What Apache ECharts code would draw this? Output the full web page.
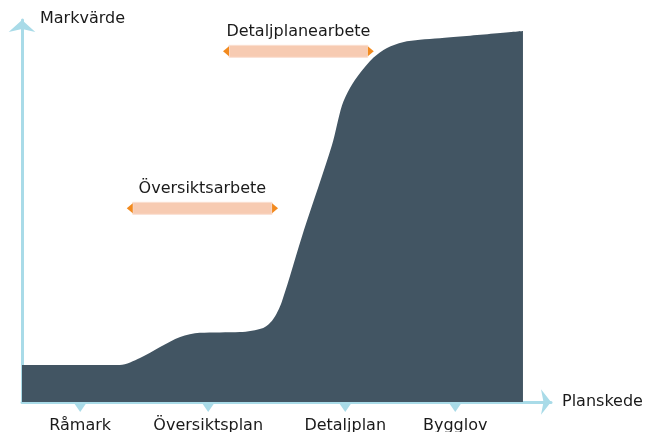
<!DOCTYPE html>
<html>
<head>
<meta charset="utf-8">
<script src="https://cdn.jsdelivr.net/npm/echarts@6/dist/echarts.min.js"></script>
<style>
  html, body { margin: 0; padding: 0; background: #fff; }
  #chart { width: 648px; height: 432px; }
</style>
</head>
<body>
<div id="chart"></div>
<script>
// market value curve, x = planning progress, y = land value (0-100)
const curveX = [0, 18.5, 22.3, 26.1, 29.9, 33.6, 41.2, 45.6, 47.4, 49.1, 53.3, 58.6, 60.5, 62.0, 63.9, 66.4, 69.0, 72.0, 75.2, 79.0, 94.7];
const curveY = [9.7, 9.7, 11.5, 14.4, 17.0, 18.1, 18.3, 19.4, 21.5, 26.2, 45.0, 67.3, 77.7, 82.2, 86.1, 90.1, 92.7, 94.2, 94.8, 95.2, 97.1];

// planning stages on the x axis
const stages = ["Råmark", "Översiktsplan", "Detaljplan", "Bygglov"];
const stageX = [11.0, 35.2, 61.1, 81.9];

// work periods (start, end, level)
const workNames = ["Översiktsarbete", "Detaljplanearbete"];
const workStart = [19.8, 38.0];
const workEnd = [48.4, 66.5];
const workLevel = [50.7, 91.8];

const FONT = "DejaVu Sans";
const AXIS_COLOR = "#a9dbe8";

const chart = echarts.init(document.getElementById("chart"));

const option = {
  animation: false,
  textStyle: { fontFamily: FONT },
  grid: { left: 22, right: 97, top: 20, bottom: 30 },
  xAxis: {
    type: "value",
    min: 0,
    max: 100,
    name: "Planskede",
    nameLocation: "end",
    nameGap: 11,
    nameTextStyle: { fontFamily: FONT, fontSize: 16, color: "#1a1a1a" },
    axisLine: {
      show: true,
      symbol: ["none", "arrow"],
      symbolSize: [19, 10],
      lineStyle: { color: AXIS_COLOR, width: 3 },
    },
    axisTick: { show: false },
    axisLabel: { show: false },
    splitLine: { show: false },
  },
  yAxis: {
    type: "value",
    min: 0,
    max: 100,
    name: "Markvärde",
    nameLocation: "end",
    nameGap: 1,
    nameTextStyle: {
      fontFamily: FONT,
      fontSize: 16,
      color: "#1a1a1a",
      align: "left",
      verticalAlign: "middle",
      padding: [0, 0, 0, 18],
    },
    axisLine: {
      show: true,
      symbol: ["none", "arrow"],
      symbolSize: [20, 12],
      lineStyle: { color: AXIS_COLOR, width: 3 },
    },
    axisTick: { show: false },
    axisLabel: { show: false },
    splitLine: { show: false },
  },
  series: [
    {
      name: "Markvärde",
      type: "line",
      data: curveX.map((x, i) => [x, curveY[i]]),
      smooth: 0.3,
      symbol: "none",
      lineStyle: { width: 0 },
      areaStyle: { color: "#425563", opacity: 1 },
      z: 1,
    },
    {
      name: "stages",
      type: "scatter",
      data: stageX.map((x, i) => ({ value: [x, 0], name: stages[i] })),
      symbol: "triangle",
      symbolRotate: 180,
      symbolSize: [11, 8],
      symbolOffset: [0, 6],
      itemStyle: { color: AXIS_COLOR, opacity: 1 },
      clip: false,
      label: {
        show: true,
        position: "bottom",
        distance: 6,
        formatter: (p) => p.name,
        fontFamily: FONT,
        fontSize: 16,
        color: "#1a1a1a",
        opacity: 1,
      },
      z: 5,
    },
    {
      name: "work",
      type: "custom",
      data: workNames.map((n, i) => [workStart[i], workEnd[i], workLevel[i], n]),
      renderItem: function (params, api) {
        const a = api.coord([api.value(0), api.value(2)]);
        const b = api.coord([api.value(1), api.value(2)]);
        const y = a[1];
        const tip = 6;
        const h = 12;
        return {
          type: "group",
          children: [
            {
              type: "rect",
              shape: { x: a[0] + tip, y: y - h / 2, width: b[0] - a[0] - 2 * tip, height: h },
              style: { fill: "#f7cbb2", stroke: "#fbe0d2", lineWidth: 1 },
            },
            {
              type: "polygon",
              shape: { points: [[a[0], y], [a[0] + tip, y - 5], [a[0] + tip, y + 5]] },
              style: { fill: "#f28a1e" },
            },
            {
              type: "polygon",
              shape: { points: [[b[0], y], [b[0] - tip, y - 5], [b[0] - tip, y + 5]] },
              style: { fill: "#f28a1e" },
            },
            {
              type: "text",
              x: (a[0] + b[0]) / 2,
              y: y - 19,
              style: {
                text: workNames[params.dataIndex],
                align: "center",
                verticalAlign: "middle",
                fontFamily: FONT,
                fontSize: 16,
                fill: "#1a1a1a",
              },
            },
          ],
        };
      },
      z: 4,
    },
  ],
};

chart.setOption(option);
</script>
</body>
</html>
